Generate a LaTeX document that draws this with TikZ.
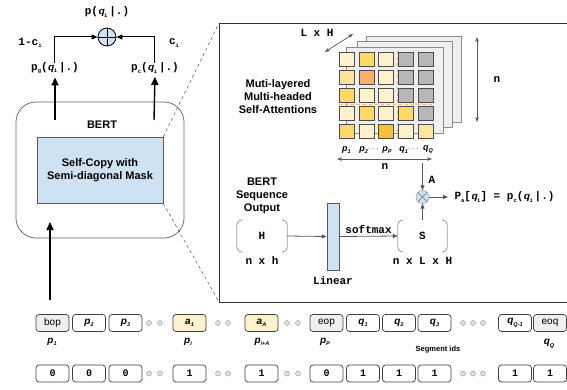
\documentclass[tikz,border=0pt]{standalone}
\usepackage{fontspec}
\setmainfont{Liberation Sans}
\setmonofont{Liberation Mono}
\usetikzlibrary{arrows.meta}

\definecolor{boxblue}{HTML}{CFE2F3}
\definecolor{lightyel}{HTML}{FFF2CC}
\definecolor{midyel}{HTML}{FFE599}
\definecolor{yel}{HTML}{FFD966}
\definecolor{darkyel}{HTML}{F1C232}
\definecolor{orng}{HTML}{F6B26B}
\definecolor{cellgray}{HTML}{B7B7B7}
\definecolor{panelgray}{HTML}{EFEFEF}
\definecolor{linegray}{HTML}{595959}

% small lowered index
\newcommand{\ix}[1]{\raisebox{-0.45ex}{\fontsize{5.5}{5.5}\selectfont #1}}
% sans bold italic variable
\newcommand{\vb}[1]{{\sffamily\bfseries\itshape #1}}

\tikzset{
  lbl/.style={font=\bfseries\fontsize{11}{13}\selectfont, align=center},
  mono/.style={font=\ttfamily\bfseries\fontsize{11}{12}\selectfont},
  token/.style={draw=black!75, line width=0.7pt, rounded corners=3pt, minimum width=33pt,
    minimum height=17pt, inner sep=0pt, font=\bfseries\fontsize{10}{11}\selectfont},
  tokentxt/.style={font=\bfseries\itshape\fontsize{10}{11}\selectfont},
  gridtxt/.style={font=\bfseries\itshape\fontsize{9}{10}\selectfont},
  segid/.style={token, font=\ttfamily\bfseries\fontsize{10}{11}\selectfont},
  dot/.style={circle, draw=gray!80, fill=gray!25, inner sep=0pt, minimum size=5pt},
  cell/.style={draw=black!70, line width=0.6pt, minimum width=15pt, minimum height=14pt, inner sep=0pt},
  layer/.style={draw=gray!90, line width=0.6pt, fill=panelgray},
  bigarrow/.style={line width=1.4pt, -{Triangle[length=8pt,width=7pt]}},
  thinarrow/.style={draw=linegray, line width=0.8pt, -{Triangle[length=5pt,width=4pt]}},
  sumarrow/.style={line width=1pt, -{Triangle[length=6pt,width=5pt]}},
  bracket/.style={draw=gray!80, line width=0.8pt},
  dimarrow/.style={draw=linegray, line width=0.7pt, {Stealth[length=5pt]}-{Stealth[length=5pt]}},
}

\begin{document}
\begin{tikzpicture}[x=1pt, y=-1pt]
\useasboundingbox (0,0) rectangle (567,390);

% ---------- left: BERT block ----------
\node[draw=gray!75!black, line width=0.7pt, rounded corners=20pt, minimum width=168pt, minimum height=136pt]
  (bert) at (100,170) {};
\node[lbl] (bertlbl) at (102,125) {BERT};
\node[draw=gray!70!black, line width=0.6pt, fill=boxblue, minimum width=126pt, minimum height=66pt, lbl]
  (selfcopy) at (100,170) {Self-Copy with\\Semi-diagonal Mask};

% output arrows and mixing
\coordinate (outgS) at (55,120);
\coordinate (outcS) at (154,120);
\node[mono] (pg) at (55,68) {p\ix{g}(\vb{q}\ix{i}\,|.)};
\node[mono] (pc) at (155,68) {p\ix{c}(\vb{q}\ix{i}\,|.)};
\draw[bigarrow] (outgS) -- (pg.south);
\draw[bigarrow] (outcS) -- (pc.south);

\node[circle, draw=black, line width=0.8pt, fill=boxblue, minimum size=18pt, inner sep=0pt] (sum) at (107,37) {};
\draw[line width=0.8pt] (sum.north) -- (sum.south) (sum.west) -- (sum.east);
\draw[sumarrow] ([xshift=-1pt,yshift=-4pt]pg.north) |- (sum.west);
\draw[sumarrow] ([xshift=-1pt,yshift=-4pt]pc.north) |- (sum.east);
\node[mono] (one) at (30,43) {1-c\ix{i}};
\node[mono] (ci) at (174,43) {c\ix{i}};
\node[mono] (psum) at (107,12) {p(\vb{q}\ix{i}\,|.)};

% input arrow
\coordinate (inS) at (50,300);
\coordinate (inE) at (50,222);
\draw[bigarrow] (inS) -- (inE);

% ---------- right: zoomed detail frame ----------
\coordinate (frTL) at (219,23);
\coordinate (frBL) at (219,302);
\draw[line width=0.8pt, black!80] (568,23) -- (frTL) -- (frBL) -- (568,302);
\draw[dashed, gray!80!black, line width=0.6pt] (selfcopy.north east) -- (frTL);
\draw[dashed, gray!80!black, line width=0.6pt] (selfcopy.south east) -- (frBL);

\node[lbl] (mutilbl) at (278,97) {Muti-layered\\Multi-headed\\Self-Attentions};

% stacked attention layers
\draw[layer] (366,36) rectangle (461,122);
\draw[layer] (357,41.5) rectangle (452,127.5);
\draw[layer] (346.5,47) rectangle (443,133);

% attention cells
\foreach \r/\colors in {1/{lightyel,yel,lightyel,cellgray,cellgray},
                        2/{midyel,orng,lightyel,cellgray,cellgray},
                        3/{yel,lightyel,lightyel,cellgray,cellgray},
                        4/{lightyel,yel,lightyel,yel,cellgray},
                        5/{yel,lightyel,darkyel,lightyel,midyel}} {
  \foreach \c [count=\k] in \colors {
    \node[cell, fill=\c] (c\r\k) at ({346.5+19.8*(\k-1)}, {59+18*(\r-1)}) {};
  }
}
\draw[orng, dashed, line width=0.9pt] (397,51) -- (397,140);
\draw[orng, dashed, line width=0.9pt] (339,104) -- (434,104);

% axes of the attention tensor
\node[mono] (lxh) at (317,33) {L x H};
\coordinate (lhA) at (325,52);
\coordinate (lhB) at (353,34);
\draw[dimarrow] (lhA) -- (lhB);
\coordinate (nvA) at (477,37);
\coordinate (nvB) at (477,122);
\draw[dimarrow] (nvA) -- (nvB);
\node[mono] (nv) at (497,80) {n};
\coordinate (nhA) at (337,159);
\coordinate (nhB) at (432,159);
\draw[dimarrow] (nhA) -- (nhB);
\node[mono] (nh) at (385,167) {n};

\node[gridtxt] (gp1) at (346.5,150) {p\ix{1}};
\node[gridtxt] (gp2) at (369,150) {p\ix{2}\upshape$\cdots$};
\node[gridtxt] (gpP) at (387,150) {p\ix{P}};
\node[gridtxt] (gq1) at (409,150) {q\ix{1}\upshape$\cdots$};
\node[gridtxt] (gqQ) at (428,150) {q\ix{Q}};

% sequence output -> linear -> softmax
\node[lbl] (seqlbl) at (262,196) {BERT\\Sequence\\Output};
\node[minimum width=50pt, minimum height=32pt] (Hbox) at (262,236) {};
\node[mono] (Htxt) at (Hbox) {H};
\node[mono] (nxh) at (262,261) {n x h};
\node[draw=gray!70!black, line width=0.6pt, fill=boxblue, minimum width=12pt, minimum height=67pt, inner sep=0pt]
  (linear) at (333,236.5) {};
\node[mono] (linlbl) at (333,281) {Linear};
\node[minimum width=49pt, minimum height=32pt] (Sbox) at (422.5,236) {};
\node[mono] (Stxt) at (Sbox) {S};
\node[mono] (nxlxh) at (422.5,261) {n x L x H};

\foreach \b in {Hbox,Sbox} {
  \draw[bracket] ([xshift=5pt]\b.north west) to[out=180,in=90] ([yshift=-5pt]\b.north west)
    -- ([yshift=5pt]\b.south west) to[out=-90,in=180] ([xshift=5pt]\b.south west);
  \draw[bracket] ([xshift=-5pt]\b.north east) to[out=0,in=90] ([yshift=-5pt]\b.north east)
    -- ([yshift=5pt]\b.south east) to[out=-90,in=0] ([xshift=-5pt]\b.south east);
}

\draw[thinarrow] (Hbox.east) -- (linear.west);
\draw[thinarrow] (linear.east) -- node[mono, above, yshift=-1pt] (smx) {softmax} (Sbox.west);

\node[circle, draw=gray!90, fill=boxblue, minimum size=13pt, inner sep=0pt] (prod) at (422.5,197) {};
\draw[gray!90!black] (prod.north east) -- (prod.south west) (prod.north west) -- (prod.south east);
\draw[thinarrow] (Sbox.north) -- (prod.south);
\coordinate (nFoot) at (422.5,163);
\draw[thinarrow] (nFoot) -- (prod.north);
\node[mono] (alb) at (432,180) {A};
\coordinate (outP) at (448,197);
\draw[thinarrow] (prod.east) -- (outP);
\node[mono, anchor=west] (pa) at (451,197) {P\ix{a}[\vb{q}\ix{i}] = p\ix{c}(\vb{q}\ix{i}\,|.)};

% ---------- input sequence ----------
\foreach \name/\x/\txt/\fillc in {
    t1/52.5/{\mdseries bop}/panelgray, t2/89/{\itshape p\ix{2}}/white, t3/125.5/{\itshape p\ix{3}}/white,
    t4/189.5/{\itshape a\ix{1}}/lightyel, t5/261.5/{\itshape a\ix{A}}/lightyel,
    t6/326.5/{\mdseries eop}/panelgray, t7/363/{\itshape q\ix{1}}/white, t8/399/{\itshape q\ix{2}}/white,
    t9/434.5/{\itshape q\ix{3}}/white, t10/515/{\itshape q\ix{Q-1}}/white, t11/550/{\mdseries eoq}/panelgray} {
  \node[token, fill=\fillc] (\name) at (\x,323) {\txt};
}
\foreach \name/\x/\txt in {s1/52.5/0, s2/89/0, s3/125.5/0, s4/189.5/1, s5/261.5/1,
    s6/326.5/0, s7/363/1, s8/399/1, s9/434.5/1, s10/515/1, s11/550/1} {
  \node[segid] (\name) at (\x,373.5) {\txt};
}
\foreach \x [count=\i] in {149,160,218,228,287,298,463,473,483} {
  \node[dot] (dA\i) at (\x,323) {};
  \node[dot] (dB\i) at (\x,373.5) {};
}

\node[tokentxt] (lp1) at (52,342) {p\ix{1}};
\node[tokentxt] (lpi) at (188,342) {p\ix{i}};
\node[tokentxt] (lpiA) at (262,342) {p\ix{i+A}};
\node[tokentxt] (lpP) at (325,342) {p\ix{P}};
\node[tokentxt] (lqQ) at (549,344) {q\ix{Q}};
\node[font=\bfseries\fontsize{7.5}{8}\selectfont] (seg) at (438,350) {Segment ids};

\end{tikzpicture}
\end{document}
